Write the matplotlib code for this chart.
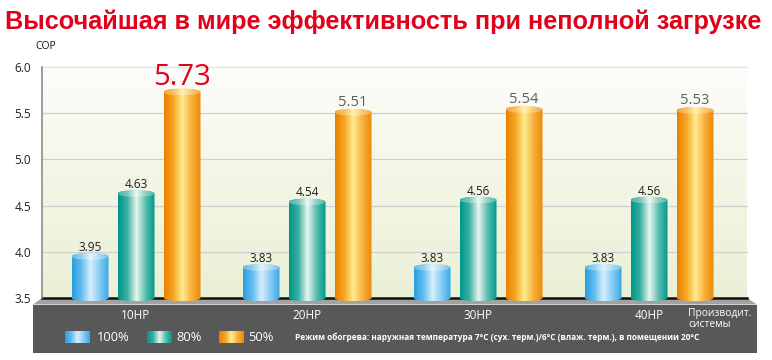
import numpy as np
import matplotlib
matplotlib.use('Agg')
import matplotlib.pyplot as plt
from matplotlib.colors import LinearSegmentedColormap, to_rgb
from matplotlib.patches import Polygon, Rectangle, PathPatch, Ellipse
from matplotlib.path import Path
from matplotlib import font_manager as fm

# ---------------- data ----------------
categories = ['10HP', '20HP', '30HP', '40HP']
series_names = ['100%', '80%', '50%']
cop_100 = [3.95, 3.83, 3.83, 3.83]
cop_80 = [4.63, 4.54, 4.56, 4.56]
cop_50 = [5.73, 5.51, 5.54, 5.53]
yticks = [3.5, 4.0, 4.5, 5.0, 5.5, 6.0]
title = 'Высочайшая в мире эффективность при неполной загрузке'
ylabel = 'COP'
extra_label = 'Производит.\nсистемы'
note = 'Режим обогрева: наружная температура 7°C (сух. терм.)/6°C (влаж. терм.), в помещении 20°C'

# ---------------- fonts ----------------
names = {f.name for f in fm.fontManager.ttflist}
base = 'Open Sans' if 'Open Sans' in names else 'DejaVu Sans'
title_font = 'Liberation Sans' if 'Liberation Sans' in names else base
plt.rcParams['font.family'] = [base, 'DejaVu Sans']

W, H = 772, 360
fig = plt.figure(figsize=(W / 100, H / 100), dpi=100)
fig.patch.set_facecolor('white')

# overlay in pixel coordinates for decorations
ov = fig.add_axes([0, 0, 1, 1])
ov.set_zorder(0)
ov.axis('off')

# main axes
px_unit = 92.4
y_lo, y_hi = 3.45, 6.01
ax_bot_px = 298 + (3.5 - y_lo) * px_unit
ax_top_px = 67 - (y_hi - 6.0) * px_unit
ax = fig.add_axes([42 / W, (H - ax_bot_px) / H, 705 / W, (ax_bot_px - ax_top_px) / H])
ax.set_zorder(1)
ax.patch.set_visible(False)
for s in ax.spines.values():
    s.set_visible(False)

grp = 171.0
xl0, xl1 = (42 - 136) / grp, (747 - 136) / grp
bw = 37 / grp
off = 46 / grp
x = np.arange(len(categories))

# background gradient
bg = LinearSegmentedColormap.from_list('bg', ['#eaf0d6', '#f3f6e5', '#fdfdfa'])
ax.imshow(np.linspace(0, 1, 256).reshape(-1, 1), extent=[xl0, xl1, 3.5, 6.0],
          cmap=bg, aspect='auto', origin='lower', zorder=0)

for yv in yticks:
    if yv == 3.5:
        continue
    ax.plot([xl0, xl1], [yv, yv], color='#d0d0d0' if yv < 6 else '#e4e4e4',
            lw=0.9, zorder=1, clip_on=False)
ax.plot([xl0, xl1], [3.5, 3.5], color='#111111', lw=1.8, zorder=2, clip_on=False)
ax.plot([xl0, xl0], [3.5, 6.0], color='#8c8c8c', lw=1.2, zorder=2, clip_on=False)

cmaps = [
    ['#2a9ee0', '#62bcef', '#d6eefc', '#86ccf4', '#38a6e5'],
    ['#00958a', '#38b0a3', '#e9f5ed', '#58bdaf', '#00978a'],
    ['#eb8000', '#f5a623', '#ffec92', '#f7b03a', '#ed8806'],
]


def lighten(c, f):
    r = np.array(to_rgb(c))
    return tuple(r + (1 - r) * f)


grad = np.linspace(0, 1, 256).reshape(1, -1)
e = 0.036
all_series = [cop_100, cop_80, cop_50]
for i, vals in enumerate(all_series):
    cm = LinearSegmentedColormap.from_list('c%d' % i, cmaps[i])
    cm_cap = LinearSegmentedColormap.from_list('k%d' % i, [lighten(c, 0.3) for c in cmaps[i]])
    pos = x + (i - 1) * off
    rects = ax.bar(pos, np.array(vals) - 3.5, bottom=3.5, width=bw,
                   facecolor='none', edgecolor='none', zorder=3)
    for r in rects:
        x0, w = r.get_x(), r.get_width()
        y0, top = r.get_y(), r.get_y() + r.get_height()
        xc = x0 + w / 2
        t1 = np.linspace(np.pi, 0, 40)
        t2 = np.linspace(0, -np.pi, 40)
        verts = np.vstack([
            np.column_stack([xc + w / 2 * np.cos(t1), top + e * np.sin(t1)]),
            np.column_stack([xc + w / 2 * np.cos(t2), y0 + e * np.sin(t2)]),
        ])
        pp = PathPatch(Path(verts, closed=False), transform=ax.transData,
                       facecolor='none', edgecolor='none')
        ax.add_patch(pp)
        im = ax.imshow(grad, extent=[x0, x0 + w, y0 - e, top + e], cmap=cm,
                       aspect='auto', zorder=3)
        im.set_clip_path(pp)
        el = Ellipse((xc, top), w, 2 * e, transform=ax.transData,
                     facecolor='none', edgecolor='none')
        ax.add_patch(el)
        im2 = ax.imshow(grad, extent=[x0, x0 + w, top - e, top + e], cmap=cm_cap,
                        aspect='auto', zorder=4)
        im2.set_clip_path(el)
    for j, (p, v) in enumerate(zip(pos, vals)):
        if i == 2 and j == 0:
            ax.annotate('%.2f' % v, (p, v), xytext=(0, 5), textcoords='offset points',
                        ha='center', va='baseline', color='#e2001a', fontsize=21, zorder=6)
        elif i == 2:
            ax.annotate('%.2f' % v, (p, v), xytext=(0, 4.5), textcoords='offset points',
                        ha='center', va='baseline', color='#5e5e5e', fontsize=10.5, zorder=6)
        else:
            ax.annotate('%.2f' % v, (p, v), xytext=(0, 4), textcoords='offset points',
                        ha='center', va='baseline', color='#1e1e1e', fontsize=8.5, zorder=6)

ax.set_xlim(xl0, xl1)
ax.set_ylim(y_lo, y_hi)
ax.set_yticks(yticks)
ax.set_yticklabels(['%.1f' % v for v in yticks])
ax.tick_params(axis='y', length=0, pad=8, labelsize=8.5, labelcolor='#222222')
ax.set_xticks(x)
ax.set_xticklabels(categories)
ax.tick_params(axis='x', length=0, pad=4.5, labelsize=8.5, labelcolor='white')

# platform and band
ov.add_patch(Polygon([(42, 298), (747, 298), (757, 304.5), (33, 304.5)],
                     closed=True, facecolor='#a2a2a2', edgecolor='none', zorder=1))
ov.add_patch(Rectangle((33, 304.5), 724, 48.5, facecolor='#585858', edgecolor='none', zorder=1))

# legend
leg_x = [65, 147, 219]
leg_tx = [97, 176, 248]
for i in range(3):
    cm = LinearSegmentedColormap.from_list('l%d' % i, cmaps[i])
    ov.imshow(grad, extent=[leg_x[i], leg_x[i] + 25, 343, 331], cmap=cm,
              aspect='auto', zorder=2)
    ov.text(leg_tx[i], 337.5, series_names[i], color='white', fontsize=9.3,
            va='center', ha='left', zorder=3)

ov.text(688, 319, extra_label, color='white', fontsize=7.4, va='center', ha='left',
        linespacing=1.1, zorder=3)
ov.text(35, 46.5, ylabel, color='#111111', fontsize=7.5, va='center', ha='left')

t_title = ov.text(5, 22, title, color='#e2001a', fontsize=18, fontweight='bold',
                  family=[title_font, 'DejaVu Sans'], va='center', ha='left')
t_note = ov.text(295, 337.5, note, color='white', fontsize=7, fontweight='bold',
                 va='center', ha='left', zorder=3)

ov.set_xlim(0, W)
ov.set_ylim(H, 0)

fig.canvas.draw()
rend = fig.canvas.get_renderer()
for t, target in [(t_title, 760), (t_note, 403)]:
    wpx = t.get_window_extent(rend).width
    t.set_fontsize(t.get_fontsize() * target / wpx)

fig.savefig('out.png', dpi=100, facecolor='white')
